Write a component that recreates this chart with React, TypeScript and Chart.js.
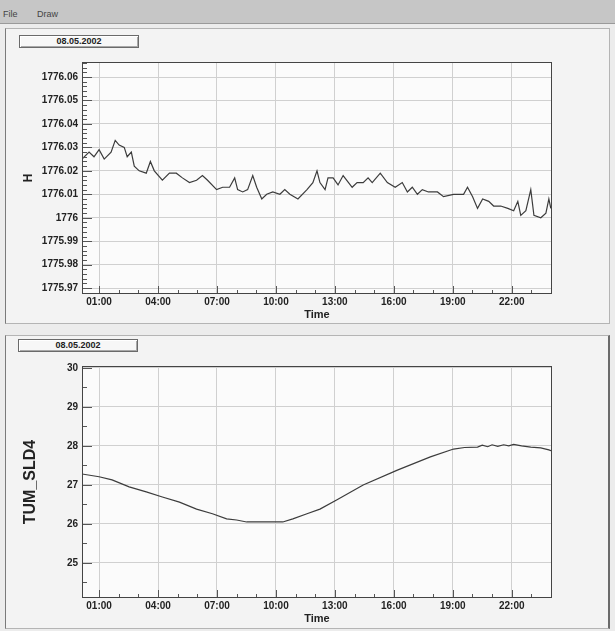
import React, { useEffect, useRef } from "react";
import { Chart, registerables } from "chart.js";
Chart.register(...registerables);

const menuItems = ["File", "Draw"];
const dateLabel = "08.05.2002";
const xTickHours = [1, 4, 7, 10, 13, 16, 19, 22];
const xTickLabels = ["01:00", "04:00", "07:00", "10:00", "13:00", "16:00", "19:00", "22:00"];
const topYTicks = [1775.97, 1775.98, 1775.99, 1776.0, 1776.01, 1776.02, 1776.03, 1776.04, 1776.05, 1776.06];
const bottomYTicks = [25, 26, 27, 28, 29, 30];

const topHours = [
  0.13, 0.49, 0.74, 1.0, 1.26, 1.61, 1.82, 2.02, 2.28, 2.43, 2.64, 2.79, 3.04, 3.4, 3.61, 3.81, 4.22, 4.58, 4.93,
  5.24, 5.6, 5.96, 6.26, 6.52, 6.98, 7.29, 7.64, 7.9, 8.05, 8.31, 8.56, 8.82, 9.02, 9.28, 9.53, 9.84, 10.2, 10.45,
  10.71, 11.12, 11.58, 11.88, 12.09, 12.24, 12.5, 12.65, 12.91, 13.16, 13.42, 13.88, 14.13, 14.44, 14.69, 14.9,
  15.31, 15.67, 16.07, 16.43, 16.69, 16.94, 17.2, 17.45, 17.76, 18.22, 18.53, 19.04, 19.55, 19.75, 20.01, 20.26,
  20.52, 20.83, 21.08, 21.44, 21.8, 22.1, 22.31, 22.46, 22.72, 22.97, 23.13, 23.48, 23.74, 23.89, 23.99,
];
const topValues = [
  1776.025, 1776.028, 1776.026, 1776.029, 1776.025, 1776.028, 1776.033, 1776.031, 1776.03, 1776.026, 1776.028,
  1776.022, 1776.02, 1776.019, 1776.024, 1776.02, 1776.016, 1776.019, 1776.019, 1776.017, 1776.015, 1776.016,
  1776.018, 1776.016, 1776.012, 1776.013, 1776.013, 1776.017, 1776.012, 1776.011, 1776.012, 1776.018, 1776.013,
  1776.008, 1776.01, 1776.011, 1776.01, 1776.012, 1776.01, 1776.008, 1776.012, 1776.015, 1776.02, 1776.015,
  1776.012, 1776.017, 1776.017, 1776.014, 1776.018, 1776.013, 1776.015, 1776.015, 1776.017, 1776.015, 1776.019,
  1776.015, 1776.013, 1776.015, 1776.011, 1776.013, 1776.01, 1776.012, 1776.011, 1776.011, 1776.009, 1776.01,
  1776.01, 1776.013, 1776.009, 1776.004, 1776.008, 1776.007, 1776.005, 1776.005, 1776.004, 1776.003, 1776.007,
  1776.001, 1776.003, 1776.012, 1776.001, 1776.0, 1776.002, 1776.008, 1776.004,
];

const bottomHours = [
  0.13, 1.0, 1.66, 2.53, 3.4, 4.22, 5.09, 5.96, 6.77, 7.49, 8.0, 8.51, 9.33, 10.35, 10.86, 11.58, 12.24, 13.11,
  14.44, 16.18, 17.86, 19.04, 19.6, 20.26, 20.5, 20.78, 21.0, 21.29, 21.59, 21.85, 22.1, 22.5, 22.97, 23.48, 23.89,
  24.04,
];
const bottomValues = [
  27.28, 27.21, 27.13, 26.95, 26.82, 26.69, 26.56, 26.38, 26.26, 26.13, 26.1, 26.05, 26.05, 26.05, 26.13, 26.26,
  26.38, 26.62, 27.0, 27.38, 27.72, 27.92, 27.96, 27.97, 28.02, 27.98, 28.03, 27.99, 28.03, 28.0, 28.04, 28.0,
  27.97, 27.95, 27.9, 27.87,
];

const FONT = "'Liberation Sans', Arial, sans-serif";

type PanelCfg = {
  hours: number[];
  values: number[];
  yTicks: number[];
  yMin: number;
  yMax: number;
  yMinor: number;
  yMajor: number;
  yTitle: string;
  yTitleSize: number;
  yFmt: (v: number) => string;
  padding: { top: number; right: number; bottom: number; left: number };
};

function makePlugin(cfg: PanelCfg) {
  return {
    id: "rootFrame",
    beforeDraw(chart: any) {
      const { ctx, chartArea: a } = chart;
      ctx.save();
      ctx.fillStyle = "#fbfbfb";
      ctx.fillRect(a.left, a.top, a.right - a.left, a.bottom - a.top);
      ctx.restore();
    },
    afterDraw(chart: any) {
      const { ctx, chartArea: a, scales } = chart;
      const x = scales.x;
      const y = scales.y;
      ctx.save();
      ctx.strokeStyle = "#555";
      ctx.lineWidth = 1;
      ctx.beginPath();
      const i0 = Math.ceil(cfg.yMin / cfg.yMinor - 1e-6);
      const i1 = Math.floor(cfg.yMax / cfg.yMinor + 1e-6);
      for (let i = i0; i <= i1; i++) {
        const v = i * cfg.yMinor;
        const r = v / cfg.yMajor;
        const major = Math.abs(r - Math.round(r)) < 1e-4;
        const p = Math.round(y.getPixelForValue(v)) + 0.5;
        if (p < a.top || p > a.bottom) continue;
        ctx.moveTo(a.left, p);
        ctx.lineTo(a.left + (major ? 10 : 5), p);
      }
      for (let h = 1; h <= 24; h++) {
        const major = (h - 1) % 3 === 0;
        const p = Math.round(x.getPixelForValue(h)) + 0.5;
        if (p < a.left || p > a.right) continue;
        ctx.moveTo(p, a.bottom);
        ctx.lineTo(p, a.bottom - (major ? 8 : 4));
      }
      ctx.stroke();
      ctx.strokeStyle = "#444";
      ctx.strokeRect(a.left + 0.5, a.top + 0.5, a.right - a.left - 1, a.bottom - a.top - 1);
      ctx.restore();
    },
  };
}

function Panel({ cfg, width, height }: { cfg: PanelCfg; width: number; height: number }) {
  const ref = useRef<HTMLCanvasElement | null>(null);
  useEffect(() => {
    if (!ref.current) return;
    const chart = new Chart(ref.current, {
      type: "line",
      data: {
        datasets: [
          {
            data: cfg.hours.map((h, i) => ({ x: h, y: cfg.values[i] })),
            borderColor: "#3c3c3c",
            borderWidth: 1.2,
            pointRadius: 0,
            tension: 0,
            fill: false,
          },
        ],
      },
      options: {
        responsive: false,
        animation: false,
        layout: { padding: cfg.padding },
        plugins: { legend: { display: false }, tooltip: { enabled: false } },
        scales: {
          x: {
            type: "linear",
            min: 0.13,
            max: 24.05,
            afterBuildTicks: (s: any) => {
              s.ticks = xTickHours.map((v) => ({ value: v }));
            },
            afterFit: (s: any) => {
              s.height = 28;
            },
            ticks: {
              autoSkip: false,
              maxRotation: 0,
              padding: 2,
              color: "#222",
              font: { family: FONT, size: 10, weight: "bold" },
              callback: (v: any) => {
                const i = xTickHours.indexOf(Number(v));
                return i >= 0 ? xTickLabels[i] : "";
              },
            },
            grid: { color: "#d0d0d0", drawTicks: false },
            border: { display: false },
            title: {
              display: true,
              text: "Time",
              color: "#222",
              padding: 0,
              font: { family: FONT, size: 11, weight: "bold" },
            },
          },
          y: {
            type: "linear",
            min: cfg.yMin,
            max: cfg.yMax,
            afterBuildTicks: (s: any) => {
              s.ticks = cfg.yTicks.map((v) => ({ value: v }));
            },
            afterFit: (s: any) => {
              s.width = 61;
            },
            ticks: {
              autoSkip: false,
              padding: 4,
              color: "#222",
              font: { family: FONT, size: 10, weight: "bold" },
              callback: (v: any) => cfg.yFmt(Number(v)),
            },
            grid: { color: "#d0d0d0", drawTicks: false },
            border: { display: false },
            title: {
              display: true,
              text: cfg.yTitle,
              color: "#222",
              padding: 0,
              font: { family: FONT, size: cfg.yTitleSize, weight: "bold" },
            },
          },
        },
      },
      plugins: [makePlugin(cfg)],
    } as any);
    return () => chart.destroy();
  }, []);
  return <canvas ref={ref} width={width} height={height} style={{ display: "block", width, height }} />;
}

const topCfg: PanelCfg = {
  hours: topHours,
  values: topValues,
  yTicks: topYTicks,
  yMin: 1775.9675,
  yMax: 1776.0664,
  yMinor: 0.002,
  yMajor: 0.01,
  yTitle: "H",
  yTitleSize: 12,
  yFmt: (v) => String(parseFloat(v.toFixed(2))),
  padding: { top: 34, right: 60, bottom: 2, left: 21 },
};

const bottomCfg: PanelCfg = {
  hours: bottomHours,
  values: bottomValues,
  yTicks: bottomYTicks,
  yMin: 24.1,
  yMax: 30.05,
  yMinor: 0.5,
  yMajor: 1,
  yTitle: "TUM_SLD4",
  yTitleSize: 16,
  yFmt: (v) => String(Math.round(v)),
  padding: { top: 30, right: 60, bottom: 0, left: 21 },
};

function DateBox({ left, top }: { left: number; top: number }) {
  return (
    <div
      style={{
        position: "absolute",
        left,
        top,
        width: 118,
        height: 11,
        border: "1px solid #6a6a6a",
        boxShadow: "inset 1px 1px 0 #ffffff, inset -1px -1px 0 #a8a8a8",
        background: "#f7f7f7",
        font: `bold 9px ${FONT}`,
        color: "#222",
        textAlign: "center",
        lineHeight: "11px",
      }}
    >
      {dateLabel}
    </div>
  );
}

export default function App() {
  useEffect(() => {
    document.body.style.margin = "0";
  }, []);
  return (
    <div style={{ position: "relative", width: 615, height: 631, background: "#ececec", overflow: "hidden" }}>
      <div
        style={{
          position: "absolute",
          left: 0,
          top: 0,
          width: 615,
          height: 23,
          background: "#c6c6c6",
          borderBottom: "1px solid #9a9a9a",
        }}
      >
        {menuItems.map((m, i) => (
          <span
            key={m}
            style={{
              position: "absolute",
              left: i === 0 ? 3 : 37,
              top: 9,
              font: `9px ${FONT}`,
              color: "#444",
            }}
          >
            {m}
          </span>
        ))}
      </div>
      <div
        style={{
          position: "absolute",
          left: 5,
          top: 28,
          width: 603,
          height: 294,
          background: "#f3f3f3",
          border: "1px solid #b4b4b4",
          borderLeft: "1px solid #7a7a7a",
        }}
      />
      <div
        style={{
          position: "absolute",
          left: 5,
          top: 335,
          width: 602,
          height: 292,
          background: "#f3f3f3",
          border: "1px solid #b4b4b4",
          borderLeft: "1px solid #7a7a7a",
          borderRight: "2px solid #6a6a6a",
        }}
      />
      <div style={{ position: "absolute", left: 0, top: 28 }}>
        <Panel cfg={topCfg} width={612} height={296} />
      </div>
      <div style={{ position: "absolute", left: 0, top: 336 }}>
        <Panel cfg={bottomCfg} width={612} height={290} />
      </div>
      <DateBox left={19} top={35} />
      <DateBox left={18} top={339} />
    </div>
  );
}
